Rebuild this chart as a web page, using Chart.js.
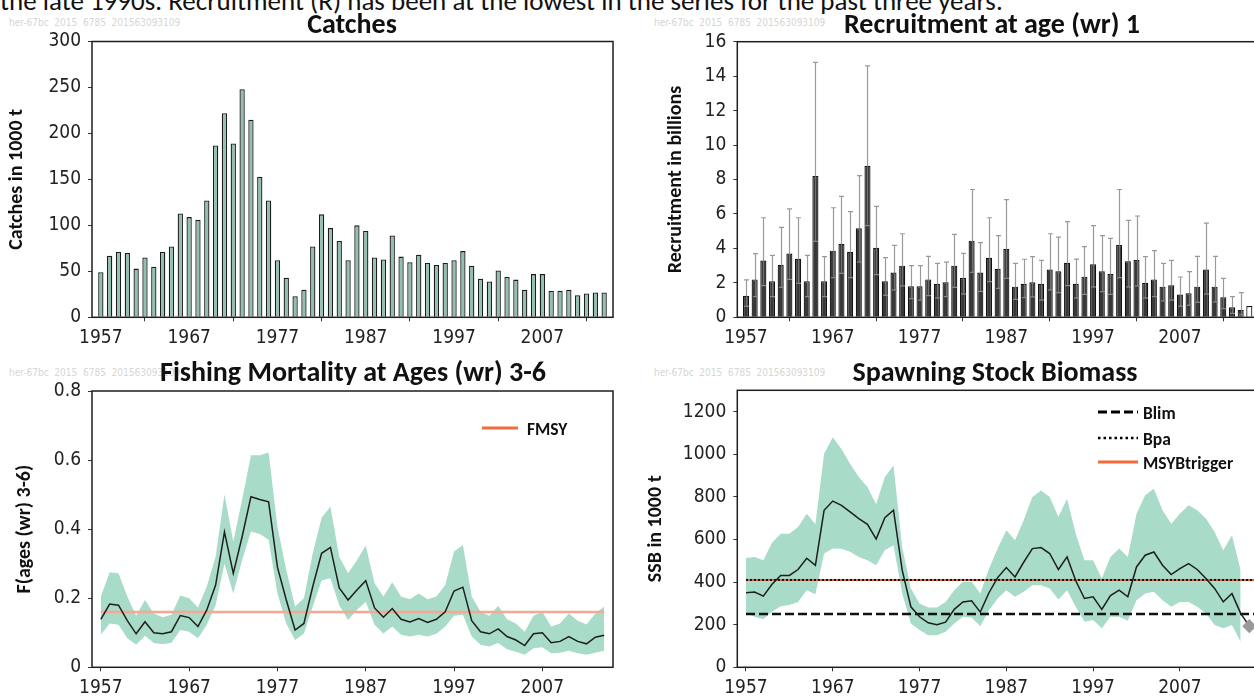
<!DOCTYPE html>
<html lang="en">
<head>
<meta charset="UTF-8">
<title>Herring stock summary</title>
<script src="https://cdn.jsdelivr.net/npm/chart.js@4.4.0/dist/chart.umd.min.js"></script>
<style>
  body { margin: 0; width: 1254px; height: 696px; overflow: hidden; background: #fff; position: relative; }
  canvas { position: absolute; }
  .txt { position: absolute; white-space: nowrap; line-height: 1; color: #111; }
  .title { font: bold 28px Carlito, Lato, sans-serif; transform: translateX(-50%); }
  .wm { font: 10px "Liberation Sans Narrow", "DejaVu Sans Condensed", sans-serif; color: #d6d6d6; }
  .leg { font: bold 17.5px Carlito, Lato, sans-serif; }
  svg { position: absolute; overflow: visible; }
</style>
</head>
<body>

<div class="txt" style="left:0; top:-16px; font:27px Carlito, Lato, sans-serif;">the late 1990s. Recruitment (R) has been at the lowest in the series for the past three years.</div>

<div class="txt wm" style="left:9px; top:17px;">her-67bc&nbsp; 2015&nbsp; 6785&nbsp; 201563093109</div>
<div class="txt wm" style="left:654px; top:17px;">her-67bc&nbsp; 2015&nbsp; 6785&nbsp; 201563093109</div>
<div class="txt wm" style="left:9px; top:367px;">her-67bc&nbsp; 2015&nbsp; 6785&nbsp; 201563093109</div>
<div class="txt wm" style="left:654px; top:367px;">her-67bc&nbsp; 2015&nbsp; 6785&nbsp; 201563093109</div>

<canvas id="catches" width="640" height="348" style="left:0; top:0;"></canvas>
<canvas id="recruit" width="640" height="348" style="left:630px; top:0;"></canvas>
<canvas id="fmort" width="640" height="348" style="left:0; top:348px;"></canvas>
<canvas id="ssb" width="640" height="348" style="left:630px; top:348px;"></canvas>

<div class="txt title" style="left:352px; top:5.5px;">Catches</div>
<div class="txt title" style="left:992px; top:5.5px;">Recruitment at age (wr) 1</div>
<div class="txt title" style="left:353px; top:353.5px;">Fishing Mortality at Ages (wr) 3-6</div>
<div class="txt title" style="left:995px; top:353.5px;">Spawning Stock Biomass</div>

<svg style="left:0; top:0;" width="1" height="1">
  <line x1="482" y1="428" x2="518" y2="428" stroke="#f26b3a" stroke-width="3"/>
  <line x1="1098" y1="412" x2="1138" y2="412" stroke="#000" stroke-width="3" stroke-dasharray="9,4"/>
  <line x1="1098" y1="438" x2="1138" y2="438" stroke="#000" stroke-width="2.5" stroke-dasharray="2.5,3"/>
  <line x1="1098" y1="462" x2="1138" y2="462" stroke="#f26b3a" stroke-width="3"/>
</svg>
<div class="txt leg" style="left:527px; top:418px;">FMSY</div>
<div class="txt leg" style="left:1143px; top:402px;">Blim</div>
<div class="txt leg" style="left:1143px; top:428px;">Bpa</div>
<div class="txt leg" style="left:1143px; top:452px;">MSYBtrigger</div>

<script>
// ---- data ----
const years = [1957,1958,1959,1960,1961,1962,1963,1964,1965,1966,1967,1968,1969,1970,1971,1972,1973,1974,1975,1976,
  1977,1978,1979,1980,1981,1982,1983,1984,1985,1986,1987,1988,1989,1990,1991,1992,1993,1994,1995,1996,
  1997,1998,1999,2000,2001,2002,2003,2004,2005,2006,2007,2008,2009,2010,2011,2012,2013,2014,2015];
const decadeTicks = [1957, 1967, 1977, 1987, 1997, 2007];

// catches in 1000 t, 1957-2014
const catches = [49,67,71,70,53,65,55,71,77,113,109,106,127,187,222,189,248,215,153,127,
  62,43,23,30,77,112,97,83,62,100,94,65,63,89,66,60,68,59,57,59,
  62,72,56,42,39,51,44,41,30,47,47,29,29,30,24,26,27,27];

// recruitment at age 1 (billions), 1957-2015, with confidence limits 1957-2014
const recruit = [1.25,2.2,3.3,2.1,3.05,3.7,3.4,2.1,8.2,2.1,3.87,4.27,3.8,5.17,8.8,4.04,2.1,2.6,3.0,1.8,
  1.8,2.2,1.95,2.03,3.0,2.28,4.45,2.6,3.46,2.82,3.97,1.78,1.95,2.03,1.95,2.77,2.67,3.17,1.95,2.36,
  3.08,2.67,2.51,4.2,3.25,3.33,2.01,2.2,1.78,1.86,1.32,1.39,1.78,2.77,1.78,1.16,0.58,0.43,0.66];
const recruitHi = [2.17,3.7,5.78,3.6,5.22,6.29,5.78,3.6,14.8,3.52,6.36,7.02,6.13,8.22,14.6,6.44,3.46,4.18,4.85,3.0,
  3.0,3.54,3.13,3.2,4.82,3.71,7.42,4.33,5.78,4.74,6.83,3.13,3.37,3.52,3.31,4.85,4.66,5.55,3.38,4.1,
  5.32,4.74,4.58,7.42,5.63,5.88,3.52,3.87,3.13,3.31,2.34,2.65,3.54,5.47,3.54,2.26,1.2,1.43];
const recruitLo = [0.64,1.2,1.84,1.2,1.74,2.2,1.97,1.2,4.41,1.2,2.3,2.55,2.3,3.21,5.32,2.48,1.28,1.59,1.82,1.08,
  1.0,1.26,1.12,1.2,1.74,1.35,2.61,1.5,2.07,1.68,2.26,1.04,1.14,1.18,1.0,1.59,1.43,1.84,1.12,1.33,
  1.76,1.49,1.33,2.3,1.76,1.82,1.12,1.2,0.95,1.0,0.64,0.7,0.87,1.35,0.89,0.5,0.23,0.14];

// fishing mortality ages 3-6, 1957-2014
const fBar = [0.139,0.183,0.18,0.135,0.097,0.132,0.1,0.097,0.103,0.15,0.144,0.118,0.166,0.238,0.392,0.272,0.378,0.494,0.486,0.479,
  0.29,0.195,0.108,0.127,0.234,0.33,0.347,0.23,0.195,0.224,0.251,0.172,0.145,0.17,0.139,0.131,0.141,0.13,0.139,0.161,
  0.221,0.232,0.135,0.103,0.097,0.111,0.089,0.079,0.063,0.097,0.1,0.071,0.075,0.089,0.075,0.068,0.087,0.093];
const fHi = [0.205,0.275,0.272,0.205,0.149,0.195,0.156,0.145,0.152,0.208,0.2,0.173,0.234,0.32,0.5,0.364,0.485,0.614,0.614,0.622,
  0.407,0.282,0.176,0.2,0.33,0.433,0.465,0.32,0.272,0.31,0.353,0.243,0.205,0.246,0.205,0.197,0.214,0.197,0.205,0.238,
  0.335,0.354,0.205,0.161,0.149,0.178,0.139,0.127,0.103,0.149,0.161,0.118,0.127,0.156,0.135,0.124,0.156,0.176];
const fLo = [0.094,0.127,0.123,0.084,0.065,0.091,0.07,0.067,0.071,0.108,0.103,0.084,0.123,0.18,0.3,0.214,0.31,0.393,0.386,0.369,
  0.214,0.127,0.079,0.098,0.176,0.251,0.258,0.18,0.137,0.166,0.19,0.123,0.098,0.118,0.094,0.089,0.094,0.089,0.097,0.118,
  0.149,0.152,0.089,0.065,0.06,0.07,0.052,0.045,0.036,0.055,0.058,0.041,0.042,0.048,0.041,0.036,0.042,0.048];
const fmsy = 0.16;

// spawning stock biomass in 1000 t, 1957-2015 (2015 = forecast diamond), limits 1957-2014
const ssb = [350,353,334,390,431,431,459,512,478,737,780,760,729,698,671,602,702,737,456,284,
  237,209,200,212,272,307,312,259,350,421,468,424,493,557,562,534,459,518,406,323,
  331,272,337,362,331,471,526,541,479,435,463,487,459,417,370,307,346,253,193];
const ssbHi = [513,518,502,584,627,627,659,721,671,1002,1080,1025,955,893,846,765,893,947,565,370,
  300,281,281,307,362,401,401,346,463,557,643,596,690,799,830,799,705,791,627,502,
  502,417,518,557,518,721,807,838,737,674,721,760,737,698,635,549,620,456];
const ssbLo = [256,237,225,261,287,292,307,362,343,534,557,556,542,518,502,479,549,573,346,206,
  175,151,151,167,206,237,234,193,268,323,362,331,354,385,385,370,318,362,284,214,
  222,183,237,237,218,315,346,354,315,284,307,307,284,253,198,183,198,120];
const blim = 250;
const bpa = 410;
const msyBtrigger = 410;

// ---- helpers ----
const xy = (ys) => ys.map((v, i) => ({ x: years[i], y: v }));
const hline = (v, x0, x1) => [{ x: x0, y: v }, { x: x1, y: v }];

const tickFont = { family: '"Liberation Sans Narrow", "DejaVu Sans Condensed", sans-serif', size: 19 };
const axisTitleFont = { family: 'Carlito, Lato, sans-serif', size: 20, weight: 'bold' };
const GREEN = '#a8dbc8';

// frame round the plot area
const framePlugin = {
  id: 'frame',
  afterDraw(chart) {
    const a = chart.chartArea, ctx = chart.ctx;
    ctx.save();
    ctx.strokeStyle = '#1e1e1e';
    ctx.lineWidth = 1.5;
    ctx.strokeRect(a.left, a.top, a.right - a.left, a.bottom - a.top);
    ctx.restore();
  }
};

function xScale(min, max, xHeight) {
  return {
    type: 'linear', min: min, max: max, offset: false,
    afterBuildTicks: s => { s.ticks = decadeTicks.map(v => ({ value: v })); },
    afterFit: s => { s.height = xHeight; },
    grid: { drawOnChartArea: false, drawTicks: true, tickLength: 4, color: '#333', lineWidth: 1 },
    border: { display: false },
    ticks: { font: tickFont, color: '#222', padding: 5, maxRotation: 0, autoSkip: false, callback: v => String(v) }
  };
}

function yScale(max, tickVals, width, title, titlePad) {
  return {
    type: 'linear', min: 0, max: max,
    afterBuildTicks: s => { s.ticks = tickVals.map(v => ({ value: v })); },
    afterFit: s => { s.width = width; },
    grid: { drawOnChartArea: false, drawTicks: true, tickLength: 4, color: '#333', lineWidth: 1 },
    border: { display: false },
    ticks: { font: tickFont, color: '#222', padding: 7, callback: v => String(v) },
    title: {
      display: true, text: title, color: '#111',
      font: axisTitleFont,
      padding: { top: titlePad, bottom: 0 }
    }
  };
}

const baseOptions = (padding) => ({
  responsive: false,
  animation: false,
  events: [],
  layout: { padding: padding },
  plugins: { legend: { display: false }, tooltip: { enabled: false }, title: { display: false } }
});

// ---- Catches ----
new Chart(document.getElementById('catches'), {
  type: 'bar',
  data: {
    datasets: [{
      data: xy(catches),
      backgroundColor: '#92c0ae',
      borderColor: '#1c1c1c',
      borderWidth: 1.3,
      barPercentage: 0.6,
      categoryPercentage: 1
    }]
  },
  options: Object.assign(baseOptions({ top: 41.5, left: 0, right: 27, bottom: 0 }), {
    scales: {
      x: xScale(1956, 2015, 30.7),
      y: yScale(300, [0, 50, 100, 150, 200, 250, 300], 92, 'Catches in 1000 t', 5)
    }
  }),
  plugins: [framePlugin]
});

// ---- Recruitment with error bars ----
const errorBars = {
  id: 'errorBars',
  afterDatasetsDraw(chart) {
    const ctx = chart.ctx, xs = chart.scales.x, ys = chart.scales.y;
    ctx.save();
    ctx.lineWidth = 1.2;
    recruitHi.forEach((hi, i) => {
      const x = Math.round(xs.getPixelForValue(years[i])) + 0.5;
      const yHi = ys.getPixelForValue(hi);
      const yTop = ys.getPixelForValue(recruit[i]);
      const yLo = ys.getPixelForValue(recruitLo[i]);
      ctx.strokeStyle = '#9a9a9a';
      ctx.beginPath();
      ctx.moveTo(x, yTop); ctx.lineTo(x, yHi);
      ctx.moveTo(x - 2.5, yHi); ctx.lineTo(x + 2.5, yHi);
      ctx.stroke();
      ctx.strokeStyle = '#707070';
      ctx.beginPath();
      ctx.moveTo(x, yLo); ctx.lineTo(x, yTop);
      ctx.stroke();
      ctx.strokeStyle = '#8a8a8a';
      ctx.beginPath();
      ctx.moveTo(x - 2.5, yLo); ctx.lineTo(x + 2.5, yLo);
      ctx.stroke();
    });
    ctx.restore();
  }
};

new Chart(document.getElementById('recruit'), {
  type: 'bar',
  data: {
    datasets: [{
      data: xy(recruit),
      backgroundColor: recruit.map((v, i) => i < recruitHi.length ? '#383838' : '#ffffff'),
      borderColor: '#111',
      borderWidth: 1.2,
      barPercentage: 0.7,
      categoryPercentage: 1
    }]
  },
  options: Object.assign(baseOptions({ top: 41.7, left: 0, right: 12, bottom: 0 }), {
    scales: {
      x: xScale(1956, 2016, 30.7),
      y: yScale(16, [0, 2, 4, 6, 8, 10, 12, 14, 16], 107.3, 'Recruitment in billions', 34)
    }
  }),
  plugins: [errorBars, framePlugin]
});

// ---- Fishing mortality ----
new Chart(document.getElementById('fmort'), {
  type: 'line',
  data: {
    datasets: [
      { data: xy(fBar), borderColor: '#1e1e1e', borderWidth: 1.5, pointRadius: 0, fill: false, tension: 0 },
      { data: hline(fmsy, 1957, 2014), borderColor: '#f7a892', borderWidth: 2.5, pointRadius: 0, fill: false },
      { data: xy(fHi), borderColor: 'rgba(0,0,0,0)', borderWidth: 0, pointRadius: 0, backgroundColor: GREEN, fill: '+1' },
      { data: xy(fLo), borderColor: 'rgba(0,0,0,0)', borderWidth: 0, pointRadius: 0, fill: false }
    ]
  },
  options: Object.assign(baseOptions({ top: 43, left: 0, right: 27, bottom: 0 }), {
    scales: {
      x: xScale(1956, 2015, 28.7),
      y: yScale(0.8, [0, 0.2, 0.4, 0.6, 0.8], 92, 'F(ages (wr) 3-6)', 13)
    }
  }),
  plugins: [framePlugin]
});

// ---- Spawning stock biomass ----
new Chart(document.getElementById('ssb'), {
  type: 'line',
  data: {
    datasets: [
      {
        data: xy(ssb), borderColor: '#1e1e1e', borderWidth: 1.5, fill: false, tension: 0,
        pointStyle: 'rectRot', pointBackgroundColor: '#999', pointBorderColor: '#999',
        pointRadius: ssb.map((v, i) => i === ssb.length - 1 ? 6 : 0)
      },
      { data: hline(bpa, 1957, 2016), borderColor: '#111', borderWidth: 2, borderDash: [2, 2], pointRadius: 0, fill: false },
      { data: hline(blim, 1957, 2016), borderColor: '#111', borderWidth: 2.5, borderDash: [9, 4], pointRadius: 0, fill: false },
      { data: hline(msyBtrigger, 1957, 2016), borderColor: '#e8603a', borderWidth: 2, pointRadius: 0, fill: false },
      { data: xy(ssbHi), borderColor: 'rgba(0,0,0,0)', borderWidth: 0, pointRadius: 0, backgroundColor: GREEN, fill: '+1' },
      { data: xy(ssbLo), borderColor: 'rgba(0,0,0,0)', borderWidth: 0, pointRadius: 0, fill: false }
    ]
  },
  options: Object.assign(baseOptions({ top: 42.3, left: 0, right: 12, bottom: 0 }), {
    scales: {
      x: xScale(1956, 2016, 28.7),
      y: yScale(1300, [0, 200, 400, 600, 800, 1000, 1200], 107.3, 'SSB in 1000 t', 14)
    }
  }),
  plugins: [framePlugin]
});
</script>
</body>
</html>
